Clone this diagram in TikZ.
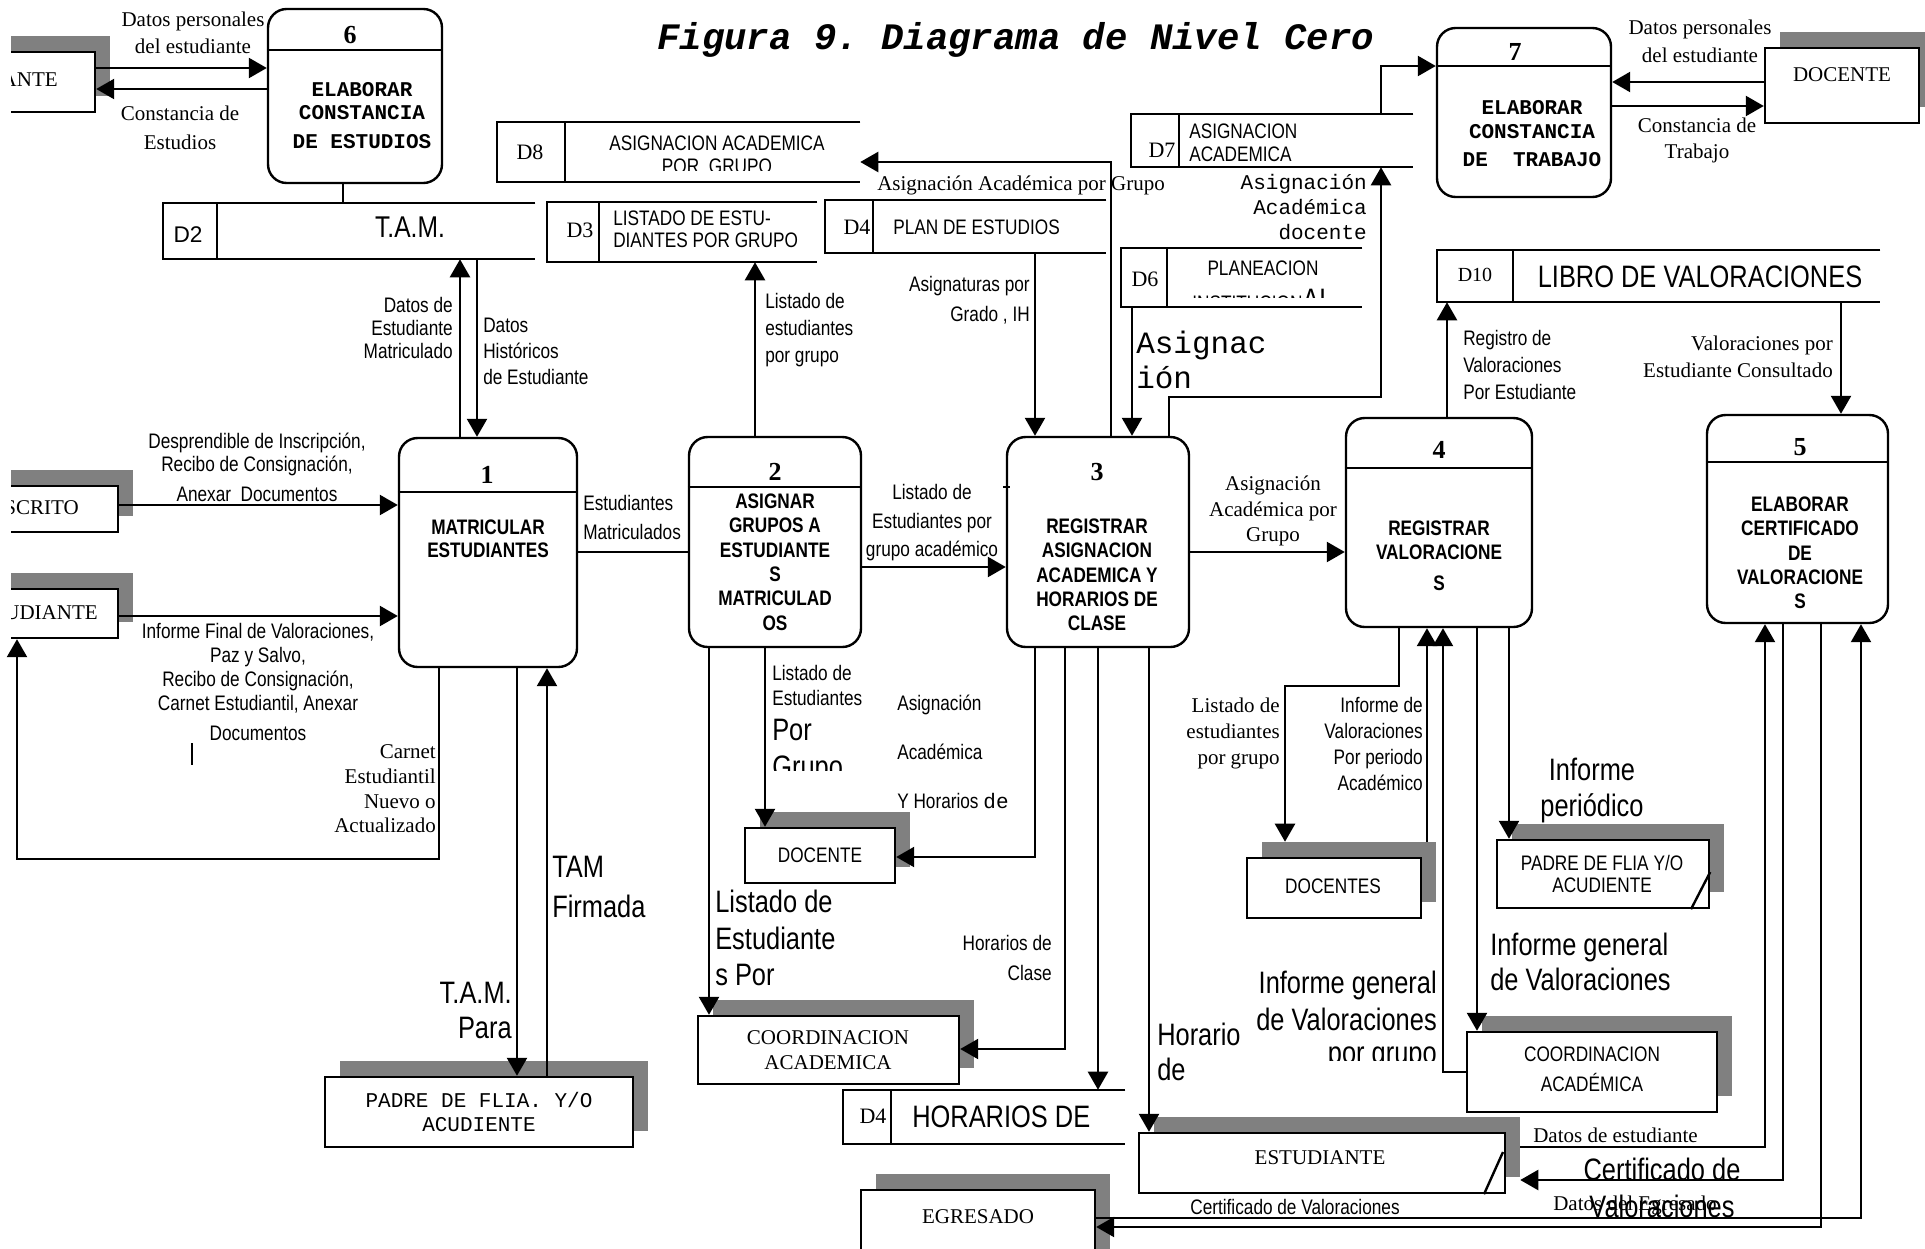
\documentclass[tikz,border=0pt]{standalone}
\usepackage{fontspec}
\setmainfont{Liberation Serif}
\newfontfamily\narrow[FakeStretch=0.82]{Liberation Sans}
\newfontfamily\plainsans{Liberation Sans}
\newfontfamily\mono{Liberation Mono}
\usetikzlibrary{arrows.meta,fit}
\definecolor{shadowgray}{HTML}{808080}
\frenchspacing

% font helpers: size fixed, baselineskip as argument
\newcommand\fNR[1]{\narrow\fontsize{15.75pt}{#1}\selectfont}
\newcommand\fNB[1]{\narrow\fontsize{23.25pt}{#1}\selectfont}
\newcommand\fTR[1]{\rmfamily\fontsize{15.75pt}{#1}\selectfont}
\newcommand\fMR[1]{\mono\fontsize{15.75pt}{#1}\selectfont}
\newcommand\fPB[1]{\narrow\bfseries\fontsize{15.75pt}{#1}\selectfont}
\newcommand\fMB[1]{\mono\bfseries\fontsize{15.75pt}{#1}\selectfont}

\tikzset{
  flow/.style={line width=1.8pt},
  arr/.style={flow,-{Triangle[length=13.5pt,width=15pt]}},
  procbox/.style={draw,line width=1.8pt,rounded corners=14pt,inner sep=0pt},
  entbox/.style={draw,fill=white,line width=1.8pt,inner sep=0pt},
  txt/.style={inner sep=0pt,align=center},
  pnum/.style={inner sep=0pt,font=\bfseries\fontsize{19.5pt}{20pt}\selectfont},
  sid/.style={inner sep=0pt,font=\fontsize{16.5pt}{17pt}\selectfont},
}

% external entity with its shadow: name, x1, y1, x2, y2
\newcommand\dfdent[5]{%
  \node[fill=shadowgray,inner sep=0pt,fit={(#2+15,#3-16)(#4+15,#5-16)}] (#1sh) {};
  \node[entbox,fit={(#2,#3)(#4,#5)}] (#1) {};
}
% data store open at the right: name, x1, y1, x2, y2, divider x
\newcommand\dfdstore[6]{%
  \node[inner sep=0pt,fit={(#2,#3)(#4,#5)}] (#1) {};
  \draw[flow] (#1.north east) -- (#1.north west) -- (#1.south west) -- (#1.south east);
  \draw[flow] (#6,0 |- #1.north) -- (#6,0 |- #1.south);
}

\begin{document}
\begin{tikzpicture}[x=0.75pt,y=-0.75pt]
\useasboundingbox (0,0) rectangle (1925,1249);
\fill[white] (0,0) rectangle (1925,1249);

% ---------- title
\node[inner sep=0pt,anchor=west,font=\mono\bfseries\itshape\fontsize{28pt}{30pt}\selectfont] (title) at (657,40) {Figura 9. Diagrama de Nivel Cero};

% ---------- external entities (the left ones run past the margin)
\begin{scope}
  \clip (11,0) rectangle (300,700);
  \dfdent{eA}{-200}{52}{95}{112}
  \dfdent{eIns}{-200}{486}{118}{532}
  \dfdent{eEst}{-200}{589}{118}{638}
  \node[txt,anchor=east,font=\fTR{18pt}] (eAt) at (58,80) {ESTUDIANTE};
  \node[txt,anchor=east,font=\fTR{18pt}] (eInsT) at (79,508) {INSCRITO};
  \node[txt,anchor=east,font=\fTR{18pt}] (eEstT) at (98,613) {ESTUDIANTE};
\end{scope}
\dfdent{eDoc}{1765}{48}{1919}{123}
\dfdent{ePadreA}{325}{1077}{633}{1147}
\dfdent{eDocA}{745}{828}{895}{883}
\dfdent{eCoordA}{698}{1016}{959}{1084}
\dfdent{eEgr}{861}{1190}{1095}{1300}
\dfdent{eDocs}{1247}{858}{1421}{918}
\dfdent{ePadreB}{1497}{840}{1709}{908}
\dfdent{eCoordB}{1467}{1032}{1717}{1112}
\dfdent{eEstB}{1139}{1133}{1505}{1193}
\draw[flow] (1691,0 |- ePadreB.south) -- (ePadreB.east |- 0,872);
\draw[flow] (1484,0 |- eEstB.south) -- (1503,1152);

\node[txt,font=\fTR{18pt}] (eDocT) at (1842,75) {DOCENTE};
\node[txt,font=\fMR{18pt}] (ePadreAT) at (479,1112) {PADRE DE FLIA. Y/O\\ACUDIENTE};
\node[txt,font=\fNR{18pt}] (eDocAT) at (820,855) {DOCENTE};
\node[txt,font=\fTR{18.75pt}] (eCoordAT) at (828,1050) {COORDINACION\\ACADEMICA};
\node[txt,font=\fTR{18pt}] (eEgrT) at (978,1217) {EGRESADO};
\node[txt,font=\fNR{18pt}] (eDocsT) at (1333,886) {DOCENTES};
\node[txt,font=\fNR{16.5pt}] (ePadreBT) at (1602,874) {PADRE DE FLIA Y/O\\ACUDIENTE};
\node[txt,font=\fNR{22.5pt}] (eCoordBT) at (1592,1069) {COORDINACION\\ACADÉMICA};
\node[txt,font=\fTR{18pt}] (eEstBT) at (1320,1158) {ESTUDIANTE};

% ---------- processes
\node[procbox,fit={(268,9)(442,183)}] (p6) {};
\draw[flow] (p6.west |- 0,50) -- (p6.east |- 0,50);
\node[pnum] (p6n) at (350,35) {6};
\node[txt,font=\fMB{17.25pt}] (p6t) at (362,116) {ELABORAR\\CONSTANCIA\\[4.5pt]DE ESTUDIOS};

\node[procbox,fit={(1437,28)(1611,197)}] (p7) {};
\draw[flow] (p7.west |- 0,66) -- (p7.east |- 0,66);
\node[pnum] (p7n) at (1515,52) {7};
\node[txt,font=\fMB{18pt}] (p7t) at (1532,134) {ELABORAR\\CONSTANCIA\\[3pt]DE~~TRABAJO};

\node[procbox,fit={(399,438)(577,667)}] (p1) {};
\draw[flow] (p1.west |- 0,492) -- (p1.east |- 0,492);
\node[pnum] (p1n) at (487,475) {1};
\node[txt,font=\fPB{17.25pt}] (p1t) at (488,539) {MATRICULAR\\ESTUDIANTES};

\node[procbox,fit={(689,437)(861,647)}] (p2) {};
\draw[flow] (p2.west |- 0,487) -- (p2.east |- 0,487);
\node[pnum] (p2n) at (775,472) {2};
\node[txt,font=\fPB{18.3pt}] (p2t) at (775,562) {ASIGNAR\\GRUPOS A\\ESTUDIANTE\\S\\MATRICULAD\\OS};

\node[procbox,fit={(1007,437)(1189,647)}] (p3) {};
\node[pnum] (p3n) at (1097,472) {3};
\node[txt,font=\fPB{18.2pt}] (p3t) at (1097,575) {REGISTRAR\\ASIGNACION\\ACADEMICA Y\\HORARIOS DE\\CLASE};

\node[procbox,fit={(1346,418)(1532,627)}] (p4) {};
\draw[flow] (p4.west |- 0,468) -- (p4.east |- 0,468);
\node[pnum] (p4n) at (1439,450) {4};
\node[txt,font=\fPB{18pt}] (p4t) at (1439,556) {REGISTRAR\\VALORACIONE\\[5pt]S};

\node[procbox,fit={(1707,415)(1888,623)}] (p5) {};
\draw[flow] (p5.west |- 0,462) -- (p5.east |- 0,462);
\node[pnum] (p5n) at (1800,447) {5};
\node[txt,font=\fPB{18.2pt}] (p5t) at (1800,553) {ELABORAR\\CERTIFICADO\\DE\\VALORACIONE\\S};

% ---------- data stores
\dfdstore{d2}{163}{203}{535}{259}{217}
\node[inner sep=0pt,font=\plainsans\fontsize{17pt}{18pt}\selectfont] (d2id) at (188,235) {D2};
\node[inner sep=0pt,font=\narrow\fontsize{22.5pt}{23pt}\selectfont] (d2t) at (410,227) {T.A.M.};

\dfdstore{d8}{497}{122}{860}{182}{565}
\node[sid] (d8id) at (530,152) {D8};
\node[txt,font=\fNR{16pt}] (d8t) at (717,143) {ASIGNACION ACADEMICA};
\begin{scope}
  \clip (570,120) rectangle (858,170);
  \node[inner sep=0pt,anchor=base,font=\fNR{16pt}] (d8t2) at (717,173) {POR\ \ GRUPO};
\end{scope}

\dfdstore{d3}{547}{202}{817}{262}{599}
\node[sid] (d3id) at (580,230) {D3};
\node[txt,anchor=west,align=left,font=\fNR{16.5pt}] (d3t) at (613,229) {LISTADO DE ESTU-\\DIANTES POR GRUPO};

\dfdstore{d4}{825}{200}{1106}{253}{873}
\node[sid] (d4id) at (857,227) {D4};
\node[txt,anchor=west,font=\fNR{16pt}] (d4t) at (893,227) {PLAN DE ESTUDIOS};

\dfdstore{d7}{1131}{114}{1413}{167}{1179}
\node[sid] (d7id) at (1162,150) {D7};
\node[txt,anchor=west,align=left,font=\fNR{17.25pt}] (d7t) at (1189,143) {ASIGNACION\\ACADEMICA};

\dfdstore{d6}{1121}{248}{1362}{307}{1167}
\node[sid] (d6id) at (1145,279) {D6};
\node[txt,font=\fNR{16pt}] (d6t) at (1263,268) {PLANEACION};
\begin{scope}
  \clip (1170,250) rectangle (1360,297);
  \node[inner sep=0pt,anchor=base,font=\fNR{16pt}] (d6t2) at (1263,310) {INSTITUCION{\fNB{24pt}AL}};
\end{scope}

\dfdstore{d10}{1437}{250}{1880}{302}{1513}
\node[inner sep=0pt,font=\fontsize{15pt}{16pt}\selectfont] (d10id) at (1475,275) {D10};
\node[inner sep=0pt,font=\fNB{24pt}] (d10t) at (1700,277) {LIBRO DE VALORACIONES};

\dfdstore{d4h}{843}{1090}{1125}{1144}{891}
\node[sid] (d4hid) at (873,1116) {D4};
\node[inner sep=0pt,anchor=west,font=\fNB{24pt}] (d4ht) at (912,1117) {HORARIOS DE};

% ---------- data flows
\draw[arr] (eA.east |- 0,68) -- (p6.west |- 0,68);
\draw[arr] (p6.west |- 0,89) -- (eA.east |- 0,89);
\draw[flow] (343,0 |- p6.south) -- (343,0 |- d2.north);
\draw[arr] (460,0 |- p1.north) -- (460,0 |- d2.south);
\draw[arr] (477,0 |- d2.south) -- (477,0 |- p1.north);
\draw[arr] (eIns.east |- 0,505) -- (p1.west |- 0,505);
\draw[arr] (eEst.east |- 0,616) -- (p1.west |- 0,616);
\draw[arr] (439,0 |- p1.south) -- (439,859) -- (17,859) -- (17,0 |- eEst.south);
\draw[flow] (p1.east |- 0,552) -- (p2.west |- 0,552);
\draw[arr] (755,0 |- p2.north) -- (755,0 |- d3.south);
\draw[arr] (p2.east |- 0,567) -- (p3.west |- 0,567);
\draw[arr] (1035,0 |- d4.south) -- (1035,0 |- p3.north);
\draw[arr] (1111,0 |- p3.north) -- (1111,162) -- (d8.east |- 0,162);
\draw[arr] (1132,0 |- d6.south) -- (1132,0 |- p3.north);
\draw[arr] (1169,0 |- p3.north) -- (1169,397) -- (1381,397) -- (1381,0 |- d7.south);
\draw[arr] (1381,0 |- d7.north) -- (1381,66) -- (p7.west |- 0,66);
\draw[arr] (eDoc.west |- 0,82) -- (p7.east |- 0,82);
\draw[arr] (p7.east |- 0,106) -- (eDoc.west |- 0,106);
\draw[arr] (p3.east |- 0,552) -- (p4.west |- 0,552);
\draw[arr] (1447,0 |- p4.north) -- (1447,0 |- d10.south);
\draw[arr] (1841,0 |- d10.south) -- (1841,0 |- p5.north);
\draw[arr] (765,0 |- p2.south) -- (765,0 |- eDocA.north);
\draw[arr] (1035,0 |- p3.south) -- (1035,857) -- (eDocA.east |- 0,857);
\draw[arr] (709,0 |- p2.south) -- (709,0 |- eCoordA.north);
\draw[arr] (1065,0 |- p3.south) -- (1065,1049) -- (eCoordA.east |- 0,1049);
\draw[arr] (1098,0 |- p3.south) -- (1098,0 |- d4h.north);
\draw[arr] (1149,0 |- p3.south) -- (1149,0 |- eEstB.north);
\draw[arr] (517,0 |- p1.south) -- (517,0 |- ePadreA.north);
\draw[arr] (547,0 |- ePadreA.north) -- (547,0 |- p1.south);
\draw[arr] (1399,0 |- p4.south) -- (1399,686) -- (1285,686) -- (1285,0 |- eDocssh.north);
\draw[arr] (1427,0 |- eDocssh.north) -- (1427,0 |- p4.south);
\draw[arr] (eCoordB.west |- 0,1072) -- (1443,1072) -- (1443,0 |- p4.south);
\draw[arr] (1477,0 |- p4.south) -- (1477,0 |- eCoordB.north);
\draw[arr] (1509,0 |- p4.south) -- (1509,0 |- ePadreB.north);
\draw[arr] (eEstBsh.east |- 0,1147) -- (1765,1147) -- (1765,0 |- p5.south);
\draw[arr] (1783,0 |- p5.south) -- (1783,1180) -- (eEstBsh.east |- 0,1180);
\draw[arr] (1821,0 |- p5.south) -- (1821,1227) -- (eEgr.east |- 0,1227);
\draw[arr] (eEgr.east |- 0,1218) -- (1861,1218) -- (1861,0 |- p5.south);

% small stray strokes
\draw[line width=1pt] (192,743) -- (192,765);
\draw[line width=1pt] (1003,487) -- (1010,487);

% ---------- flow labels
\node[txt,font=\fTR{20.25pt}] (lDatA) at (193,33) {Datos personales\\del estudiante};
\node[txt,font=\fTR{21.75pt}] (lConsA) at (180,128) {Constancia de\\Estudios};
\node[txt,anchor=east,align=right,font=\fNR{17.25pt}] (lDatMat) at (453,328) {Datos de\\Estudiante\\Matriculado};
\node[txt,anchor=west,align=left,font=\fNR{19.5pt}] (lDatHis) at (483,351) {Datos\\Históricos\\de Estudiante};
\node[txt,anchor=west,align=left,font=\fNR{20.5pt}] (lLisGr) at (765,330) {Listado de\\estudiantes\\por grupo};
\node[txt,font=\fTR{20pt}] (lAsigGr) at (1021,185) {Asignación Académica por Grupo};
\node[txt,anchor=east,align=right,font=\fNR{22.5pt}] (lAsigt) at (1030,300) {Asignaturas por\\Grado , IH};
\node[txt,anchor=east,align=right,font=\fMR{19pt}] (lAsigDoc) at (1367,207) {Asignación\\Académica\\docente};
\node[txt,anchor=west,align=left,font=\mono\fontsize{23.25pt}{26.25pt}\selectfont] (lAsignac) at (1136,360) {Asignac\\ión};
\node[txt,font=\fTR{21pt}] (lDatB) at (1700,41) {Datos personales\\del estudiante};
\node[txt,font=\fTR{19.5pt}] (lConsB) at (1697,140) {Constancia de\\Trabajo};
\node[txt,anchor=west,align=left,font=\fNR{20.25pt}] (lRegVal) at (1463,365) {Registro de\\Valoraciones\\Por Estudiante};
\node[txt,anchor=east,align=right,font=\fTR{20.25pt}] (lValCons) at (1833,357) {Valoraciones por\\Estudiante Consultado};
\node[txt,font=\fNR{17.25pt}] (lDespr) at (257,467) {Desprendible de Inscripción,\\Recibo de Consignación,\\[5.25pt]Anexar\ \ Documentos};
\node[txt,font=\fNR{18pt}] (lInfFin) at (258,682) {Informe Final de Valoraciones,\\Paz y Salvo,\\Recibo de Consignación,\\Carnet Estudiantil, Anexar\\[4.5pt]Documentos};
\node[txt,anchor=east,align=right,font=\fTR{18.5pt}] (lCarnet) at (436,789) {Carnet\\Estudiantil\\Nuevo o\\Actualizado};
\node[txt,anchor=west,align=left,font=\fNR{21.75pt}] (lEstMat) at (583,517) {Estudiantes\\Matriculados};
\node[txt,font=\fNR{21.4pt}] (lLisAc) at (932,523) {Listado de\\Estudiantes por\\grupo académico};
\node[txt,anchor=west,align=left,font=\fNR{18.75pt}] (lLisPG) at (772,685) {Listado de\\Estudiantes};
\node[txt,anchor=west,font=\fNB{26pt}] (lPor) at (772,730) {Por};
\begin{scope}
  \clip (760,740) rectangle (900,770);
  \node[inner sep=0pt,anchor=base west,font=\fNB{26pt}] (lGrupo) at (772,777) {Grupo};
\end{scope}
\node[txt,anchor=west,align=left,font=\fNR{37pt}] (lAsigHor) at (897,752) {Asignación\\Académica\\Y Horarios {\mono\fontsize{15.75pt}{37pt}\selectfont de}};
\node[txt,font=\fTR{19.1pt}] (lAsigGr2) at (1273,511) {Asignación\\Académica por\\Grupo};
\node[txt,anchor=east,align=right,font=\fTR{19.5pt}] (lLisGr2) at (1280,733) {Listado de\\estudiantes\\por grupo};
\node[txt,anchor=east,align=right,font=\fNR{19.5pt}] (lInfPer) at (1423,744) {Informe de\\Valoraciones\\Por periodo\\Académico};
\node[txt,font=\fNB{27pt}] (lInfPeriod) at (1592,790) {Informe\\periódico};
\node[txt,anchor=west,align=left,font=\fNB{26.25pt}] (lInfGenB) at (1490,962) {Informe general\\de Valoraciones};
\node[txt,anchor=east,align=right,font=\fNB{27.75pt}] (lInfGenA) at (1437,1001) {Informe general\\de Valoraciones};
\begin{scope}
  \clip (1280,1035) rectangle (1440,1060);
  \node[inner sep=0pt,anchor=base east,font=\fNB{26pt}] (lPorGrupo) at (1437,1063) {por grupo};
\end{scope}
\node[txt,anchor=west,align=left,font=\fNB{26.25pt}] (lHorario) at (1157,1052) {Horario\\de};
\node[txt,anchor=east,align=right,font=\fNR{22.5pt}] (lHorClase) at (1052,958) {Horarios de\\Clase};
\node[txt,anchor=west,align=left,font=\fNB{27.4pt}] (lLisEst) at (715,938) {Listado de\\Estudiante\\s Por};
\node[txt,anchor=west,align=left,font=\fNB{30pt}] (lTAMf) at (552,887) {TAM\\Firmada};
\node[txt,anchor=east,align=right,font=\fNB{26.25pt}] (lTAMp) at (512,1010) {T.A.M.\\Para};
\node[txt,anchor=west,font=\fTR{18pt}] (lDatEst) at (1533,1135) {Datos de estudiante};
\node[txt,font=\fNB{27.75pt}] (lCertB) at (1662,1188) {Certificado de\\Valoraciones};
\node[txt,anchor=west,font=\fTR{18pt}] (lDatEgr) at (1553,1205) {Datos del Egresado};
\node[txt,font=\fNR{18pt}] (lCertA) at (1295,1207) {Certificado de Valoraciones};
\end{tikzpicture}
\end{document}
